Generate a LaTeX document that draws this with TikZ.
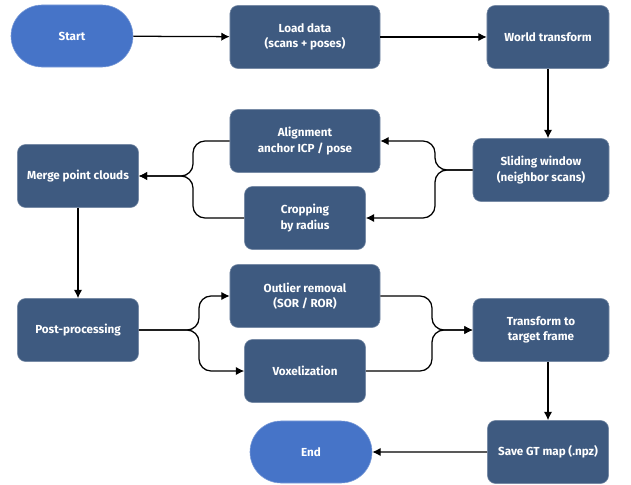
\documentclass[tikz,border=0pt]{standalone}
\usepackage{fontspec}
\setmainfont{Fira Sans}
\usetikzlibrary{arrows.meta,shapes.misc}
\definecolor{boxblue}{HTML}{3E5A80}
\definecolor{termblue}{HTML}{4674C8}
\tikzset{
  proc/.style={draw=boxblue!70!white, line width=0.4pt, fill=boxblue, rounded corners=0.2cm,
    text=white, font=\fontsize{8.3}{11}\selectfont\bfseries, align=center,
    minimum height=1.575cm, inner sep=0pt},
  term/.style={draw=termblue!70!white, line width=0.4pt, fill=termblue, rounded rectangle,
    text=white, font=\fontsize{8.3}{11}\selectfont\bfseries,
    minimum height=1.55cm, minimum width=3.05cm, inner sep=0pt},
  flow/.style={-{Latex[length=6pt,width=6pt]}, line width=0.9pt, rounded corners=0.3cm},
}
\begin{document}
\begin{tikzpicture}[x=0.025cm, y=-0.025cm]
  \useasboundingbox (0,0) rectangle (631,485);
  \path
    (72,36) node[term] (start){Start}
    (305,37) node[proc, minimum width=3.75cm] (load){Load data\\(scans + poses)}
    (548,37) node[proc, minimum width=3.05cm] (world){World transform}
    (541,170) node[proc, minimum width=3.4cm] (slide){Sliding window\\(neighbor scans)}
    (305,141) node[proc, minimum width=3.75cm] (align){Alignment\\anchor ICP / pose}
    (305,218) node[proc, minimum width=3.025cm] (crop){Cropping\\by radius}
    (78,176) node[proc, minimum width=3.025cm] (merge){Merge point clouds}
    (78,330) node[proc, minimum width=3.025cm] (post){Post-processing}
    (305,296) node[proc, minimum width=3.75cm] (outlier){Outlier removal\\(SOR / ROR)}
    (305,371) node[proc, minimum width=3.025cm] (voxel){Voxelization}
    (541,330) node[proc, minimum width=3.4cm] (target){Transform to\\target frame}
    (548,452) node[proc, minimum width=3.025cm] (save){Save GT map (.npz)}
    (311,452) node[term] (end){End};
  \coordinate (split1) at (435,170);
  \coordinate (join1) at (193,176);
  \coordinate (split2) at (199,330);
  \coordinate (join2) at (432,330);
  \begin{scope}[flow]
    \draw (start) -- (load);
    \draw (load) -- (world);
    \draw (world) -- (world |- slide.north);
    \draw (slide.west) -- (split1) |- (align.east);
    \draw (slide.west) -- (split1) |- (crop.east);
    \draw (align.west) -| (join1) -- (merge.east);
    \draw (crop.west) -| (join1) -- (merge.east);
    \draw (merge) -- (post);
    \draw (post.east) -- (split2) |- (outlier.west);
    \draw (post.east) -- (split2) |- (voxel.west);
    \draw (outlier.east) -| (join2) -- (target.west);
    \draw (voxel.east) -| (join2) -- (target.west);
    \draw (save |- target.south) -- (save);
    \draw (save) -- (end);
  \end{scope}
\end{tikzpicture}
\end{document}
